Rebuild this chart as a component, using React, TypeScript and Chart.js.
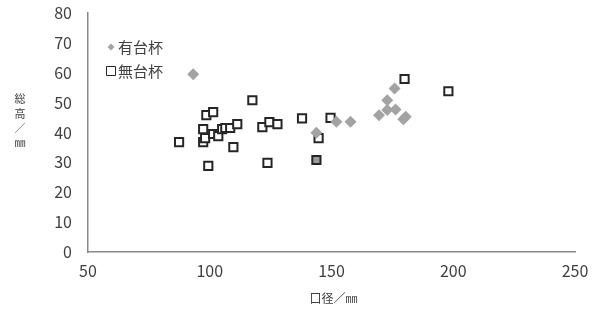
import React, { useEffect, useRef } from "react";
import { Chart, registerables } from "chart.js";

Chart.register(...registerables);

// 有台杯 (with stand) – diamonds
const withStandX = [93.2, 143.8, 152, 157.8, 175.9, 172.9, 169.5, 172.9, 176.3, 179.5, 180.5];
const withStandY = [59.5, 39.9, 43.6, 43.6, 54.7, 50.8, 45.8, 47.5, 47.7, 44.4, 45.3];

// 無台杯 (without stand) – squares
const noStandX = [87.4, 97.3, 97.3, 98.6, 101.4, 99.4, 109.7, 117.5, 121.6, 124.5, 127.8, 123.7, 98.1, 101.4, 103.5, 105.1, 106.4, 108.4, 111.3, 137.9, 149.6, 144.7, 143.8, 180, 198];
const noStandY = [36.8, 41.1, 36.8, 45.8, 46.8, 28.8, 35.1, 50.8, 41.8, 43.5, 42.8, 29.8, 38.1, 39.5, 38.8, 41.1, 41.5, 41.5, 42.8, 44.7, 44.9, 38.1, 30.8, 57.9, 53.8];
// one square in the reference is drawn with a gray fill
const noStandFilled = [22];

const seriesNames = ["有台杯", "無台杯"];
const xTitle = "口径／㎜";
const yTitleChars = ["総", "高", "／", "㎜"];

const FONT = "'Noto Sans CJK JP', 'Noto Sans', sans-serif";
const TEXT = "#404040";
const DIAMOND = "#a3a3a3";
const SQUARE_BORDER = "#262626";

const customDraw = {
  id: "customDraw",
  afterDraw(chart: any) {
    const ctx = chart.ctx as CanvasRenderingContext2D;
    const area = chart.chartArea;
    ctx.save();
    ctx.fillStyle = TEXT;
    ctx.textBaseline = "middle";
    // y title (vertical, upright chars)
    ctx.font = `11px ${FONT}`;
    ctx.textAlign = "center";
    yTitleChars.forEach((c, i) => {
      ctx.fillText(c, 20, 99 + i * 14.5);
    });
    // x title
    ctx.font = `12px ${FONT}`;
    ctx.fillText(xTitle, (area.left + area.right) / 2 + 2, 298);

    // legend
    const lx = area.left + 23;
    // diamond
    ctx.fillStyle = DIAMOND;
    ctx.beginPath();
    ctx.moveTo(lx, 47 - 3.5);
    ctx.lineTo(lx + 3.5, 47);
    ctx.lineTo(lx, 47 + 3.5);
    ctx.lineTo(lx - 3.5, 47);
    ctx.closePath();
    ctx.fill();
    // square
    ctx.strokeStyle = SQUARE_BORDER;
    ctx.lineWidth = 1;
    ctx.fillStyle = "#fff";
    ctx.beginPath();
    ctx.rect(lx - 4.5, 71 - 4.5, 9, 9);
    ctx.fill();
    ctx.stroke();
    ctx.fillStyle = TEXT;
    ctx.font = `15px ${FONT}`;
    ctx.textAlign = "left";
    ctx.fillText(seriesNames[0], lx + 7, 47);
    ctx.fillText(seriesNames[1], lx + 7, 71);
    ctx.restore();
  },
};

export default function App() {
  const ref = useRef<HTMLCanvasElement | null>(null);
  useEffect(() => {
    if (!ref.current) return;
    const withStand = withStandX.map((x, i) => ({ x, y: withStandY[i] }));
    const noStand = noStandX.map((x, i) => ({ x, y: noStandY[i] }));
    const noStandBg = noStandX.map((_, i) => (noStandFilled.includes(i) ? "#9a9a9a" : "#ffffff"));
    const chart = new Chart(ref.current, {
      type: "scatter",
      data: {
        datasets: [
          {
            label: seriesNames[0],
            data: withStand,
            pointStyle: "rectRot",
            pointRadius: 6,
            backgroundColor: DIAMOND,
            borderColor: DIAMOND,
            borderWidth: 0,
          },
          {
            label: seriesNames[1],
            data: noStand,
            pointStyle: "rect",
            pointRadius: 5.8,
            backgroundColor: noStandBg,
            borderColor: SQUARE_BORDER,
            borderWidth: 2,
          },
        ],
      },
      options: {
        animation: false,
        responsive: true,
        maintainAspectRatio: false,
        layout: { padding: { top: 13, right: 21, left: 0, bottom: 0 } },
        plugins: {
          legend: { display: false },
          tooltip: { enabled: false },
        },
        scales: {
          x: {
            type: "linear",
            min: 50,
            max: 250,
            ticks: { stepSize: 50, color: TEXT, font: { size: 16, family: FONT }, padding: 1 },
            grid: { display: false },
            border: { display: true, color: "#8a8a8a", width: 1.5 },
            afterFit: (s: any) => {
              s.height = 61;
            },
          },
          y: {
            type: "linear",
            min: 0,
            max: 80,
            ticks: { stepSize: 10, color: TEXT, font: { size: 16, family: FONT }, padding: 0 },
            grid: {
              display: true,
              drawOnChartArea: false,
              drawTicks: true,
              tickLength: 16,
              color: "rgba(0,0,0,0)",
            },
            border: { display: true, color: "#8a8a8a", width: 1.5 },
            afterFit: (s: any) => {
              s.width = 88;
            },
          },
        },
      },
      plugins: [customDraw],
    });
    return () => chart.destroy();
  }, []);
  return (
    <div style={{ position: "fixed", left: 0, top: 0, width: 596, height: 313, background: "#fff" }}>
      <canvas ref={ref} />
    </div>
  );
}
